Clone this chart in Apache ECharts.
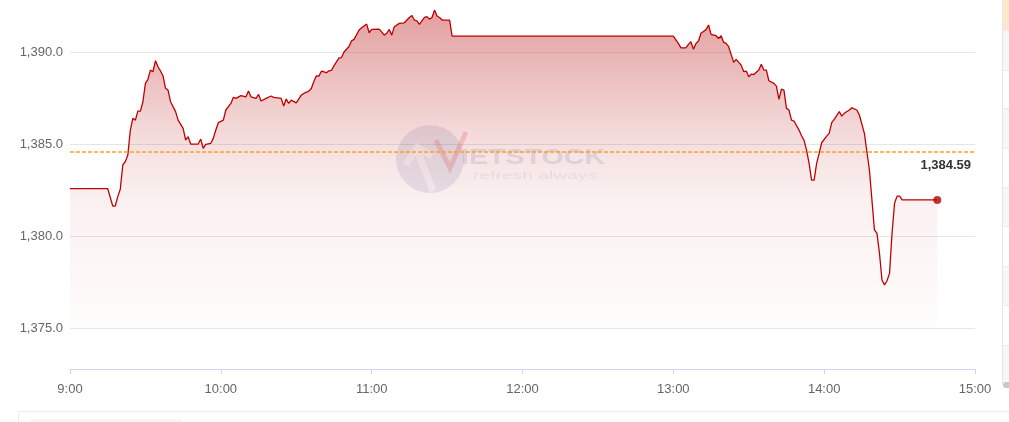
<!DOCTYPE html>
<html>
<head>
<meta charset="utf-8">
<script src="https://cdn.jsdelivr.net/npm/echarts@6/dist/echarts.min.js"></script>
<style>
html,body{margin:0;padding:0;background:#fff;overflow:hidden;width:1009px;height:422px}
#chart{position:absolute;left:0;top:0;width:1009px;height:422px}
#side{position:absolute;left:1002px;top:0;width:7px;height:385px;border-left:1px solid #e6e6e6;
  background:linear-gradient(#fde8cc 0,#fde8cc 30px,#ececec 30px,#ececec 31px,#f7f7f7 31px,#f7f7f7 70px,#ececec 70px,#ececec 71px,#fff 71px,#fff 108px,#ececec 108px,#ececec 109px,#f7f7f7 109px,#f7f7f7 148px,#ececec 148px,#ececec 149px,#fff 149px,#fff 187px,#ececec 187px,#ececec 188px,#f7f7f7 188px,#f7f7f7 226px,#ececec 226px,#ececec 227px,#fff 227px,#fff 266px,#ececec 266px,#ececec 267px,#f7f7f7 267px,#f7f7f7 305px,#ececec 305px,#ececec 306px,#fff 306px,#fff 345px,#ececec 345px,#ececec 346px,#f7f7f7 346px);}
#scroll{position:absolute;left:1003px;top:382px;width:6px;height:6px;border-radius:3px 0 0 3px;background:#c8c8c8}
#bottom{position:absolute;left:18px;top:411px;width:991px;height:12px;border-top:1px solid #ececec;border-left:1px solid #ececec}
#bottom2{position:absolute;left:31px;top:419px;width:151px;height:4px;background:#f6f6f6}
</style>
</head>
<body>
<div id="chart"></div>
<div id="side"></div>
<div id="scroll"></div>
<div id="bottom"></div>
<div id="bottom2"></div>
<script>
// ---- data ----
const times = [
 "9:00","9:15","9:17","9:18","9:19","9:20","9:21","9:22","9:23","9:24","9:25","9:26","9:27","9:28","9:29",
 "9:30","9:31","9:32","9:33","9:34","9:35","9:36","9:37","9:38","9:39","9:40","9:42","9:43","9:45","9:46",
 "9:47","9:48","9:49","9:51","9:52","9:53","9:54","9:56","9:57","9:58","9:59","10:01","10:02","10:04","10:05",
 "10:06","10:08","10:10","10:11","10:12","10:14","10:15","10:16","10:18","10:20","10:21","10:24","10:25","10:26","10:27",
 "10:28","10:30","10:32","10:33","10:35","10:36","10:37","10:38","10:39","10:40","10:41","10:42","10:43","10:44","10:45",
 "10:47","10:48","10:49","10:51","10:52","10:53","10:55","10:56","10:58","10:59","11:00","11:03","11:04","11:05","11:06",
 "11:07","11:08","11:09","11:11","11:13","11:15","11:16","11:17","11:18","11:19","11:21","11:22","11:23","11:24","11:25",
 "11:26","11:27","11:28","11:31","11:32","13:00","13:02","13:03","13:05","13:06","13:07","13:08","13:09","13:10","13:11",
 "13:12","13:13","13:14","13:15","13:17","13:18","13:19","13:20","13:21","13:22","13:24","13:25","13:27","13:28","13:29",
 "13:30","13:31","13:32","13:34","13:35","13:36","13:37","13:38","13:40","13:41","13:42","13:43","13:44","13:45","13:46",
 "13:47","13:48","13:50","13:51","13:52","13:53","13:54","13:55","13:56","13:57","13:58","13:59","14:01","14:02","14:03",
 "14:04","14:06","14:07","14:08","14:10","14:11","14:13","14:14","14:16","14:17","14:18","14:19","14:20","14:21","14:22",
 "14:23","14:24","14:25","14:26","14:27","14:28","14:29","14:30","14:31","14:45"
];
const prices = [
 1382.58,1382.58,1381.63,1381.63,1382.14,1382.54,1383.86,1384.04,1384.40,1385.76,1386.40,1386.30,1386.79,1386.79,1387.30,
 1388.30,1388.52,1389.02,1388.93,1389.53,1389.20,1388.97,1388.70,1388.03,1387.93,1387.30,1386.76,1386.30,1385.85,1385.22,
 1385.40,1385.00,1385.00,1385.00,1385.27,1384.77,1384.98,1385.04,1385.31,1385.76,1386.16,1386.30,1386.85,1387.21,1387.54,
 1387.48,1387.63,1387.57,1387.88,1387.57,1387.48,1387.70,1387.34,1387.48,1387.61,1387.54,1387.48,1387.07,1387.45,1387.21,
 1387.39,1387.24,1387.66,1387.75,1387.88,1388.02,1388.40,1388.71,1388.69,1388.96,1388.93,1388.87,1388.98,1389.01,1389.25,
 1389.68,1389.70,1390.00,1390.30,1390.61,1390.69,1391.20,1391.32,1391.52,1391.05,1391.23,1391.25,1391.10,1390.92,1391.02,
 1391.23,1390.92,1391.38,1391.56,1391.59,1391.88,1391.99,1391.74,1391.70,1391.51,1391.88,1391.92,1391.79,1391.88,1392.28,
 1391.96,1391.88,1391.74,1391.74,1390.87,1390.87,1390.47,1390.23,1390.23,1390.42,1390.56,1390.15,1390.47,1390.60,1391.02,
 1391.12,1391.22,1391.47,1390.96,1390.89,1390.74,1390.89,1390.53,1390.47,1390.29,1389.44,1389.60,1389.29,1388.93,1388.97,
 1388.66,1388.80,1388.78,1389.02,1389.33,1389.02,1389.02,1388.44,1388.30,1388.15,1387.43,1387.99,1387.93,1386.94,1386.85,
 1386.30,1386.25,1385.76,1385.45,1385.20,1384.67,1383.95,1383.04,1383.04,1383.95,1384.49,1385.07,1385.43,1385.58,1386.16,
 1386.34,1386.76,1386.52,1386.67,1386.85,1386.97,1386.85,1386.58,1385.58,1384.58,1383.59,1381.96,1380.33,1380.15,1379.06,
 1377.61,1377.34,1377.57,1377.97,1380.15,1381.78,1382.17,1382.17,1381.96,1381.96
];
const refValue = 1384.59;
const xTickLabels = ["9:00","10:00","11:00","12:00","13:00","14:00","15:00"];
const yMin = 1375, yMax = 1392.83, yStep = 5;

// ---- build ----
const toMin = s => { const p = s.split(":"); return (+p[0] - 9) * 60 + (+p[1]); };
const seriesData = times.map((t, i) => [toMin(t), prices[i]]);
const last = seriesData[seriesData.length - 1];
const FONT = 'Arial, "Liberation Sans", sans-serif';
const fmtNum = (v, d) => v.toLocaleString('en-US', {minimumFractionDigits: d, maximumFractionDigits: d});

const chart = echarts.init(document.getElementById('chart'), null, {renderer: 'canvas'});
chart.setOption({
  animation: false,
  grid: {left: 70, right: 34, top: 0, bottom: 94},
  xAxis: {
    type: 'value', min: 0, max: 360, interval: 60, offset: 41,
    axisLine: {onZero: false, lineStyle: {color: '#ccd6eb', width: 1}},
    axisTick: {length: 5, lineStyle: {color: '#ccd6eb'}},
    axisLabel: {margin: 14, color: '#666666', fontSize: 13, fontFamily: FONT,
      formatter: v => xTickLabels[Math.round(v / 60)]},
    splitLine: {show: false}
  },
  yAxis: {
    type: 'value', min: yMin, max: yMax, interval: yStep,
    axisLine: {show: false}, axisTick: {show: false},
    axisLabel: {margin: 7, color: '#666666', fontSize: 13, fontFamily: FONT, showMaxLabel: false,
      formatter: v => fmtNum(v, 1)},
    splitLine: {showMaxLine: false, lineStyle: {color: '#e6e6e6', width: 1}}
  },
  graphic: [
    {type: 'circle', z: 1, shape: {cx: 430, cy: 159, r: 34}, style: {fill: 'rgba(105,120,170,0.16)'}},
    {type: 'polyline', z: 1, shape: {points: [[406, 165], [417, 147], [432, 156]]}, style: {stroke: 'rgba(255,255,255,0.55)', lineWidth: 7, fill: null}},
    {type: 'polyline', z: 1, shape: {points: [[417, 150], [433, 191]]}, style: {stroke: 'rgba(255,255,255,0.55)', lineWidth: 7, fill: null}},
    {type: 'polyline', z: 1, shape: {points: [[436, 140], [450, 168], [466, 132]]}, style: {stroke: 'rgba(225,80,80,0.22)', lineWidth: 5, fill: null}},
    {type: 'text', z: 1, x: 461, y: 158, scaleX: 1.3, style: {text: 'IETSTOCK', font: 'bold 22px ' + FONT, fill: 'rgba(105,120,170,0.18)', verticalAlign: 'middle'}},
    {type: 'text', z: 1, x: 473, y: 176, scaleX: 1.75, style: {text: 'refresh always', font: '11px ' + FONT, fill: 'rgba(105,120,170,0.13)', verticalAlign: 'middle'}}
  ],
  series: [
    {
      type: 'line', data: seriesData, showSymbol: false, symbol: 'none', z: 3,
      lineStyle: {color: '#bf0000', width: 1.3},
      areaStyle: {color: new echarts.graphic.LinearGradient(0, 0, 0, 1, [
        {offset: 0, color: 'rgba(180,0,0,0.54)'},
        {offset: 0.3, color: 'rgba(180,0,0,0.28)'},
        {offset: 0.45, color: 'rgba(180,0,0,0.16)'},
        {offset: 0.6, color: 'rgba(180,0,0,0.08)'},
        {offset: 0.9, color: 'rgba(180,0,0,0.03)'},
        {offset: 1, color: 'rgba(180,0,0,0.015)'}
      ])},
      emphasis: {disabled: true},
      markLine: {
        silent: true, symbol: ['none', 'none'], animation: false,
        data: [{yAxis: refValue}],
        lineStyle: {color: '#f7a128', type: [4, 2], width: 1.5},
        label: {position: 'insideEndBottom', distance: [4, 7], formatter: () => fmtNum(refValue, 2),
          color: '#333333', fontWeight: 'bold', fontSize: 13, fontFamily: FONT}
      }
    },
    {
      type: 'scatter', data: [last], symbol: 'circle', symbolSize: 8, z: 4,
      itemStyle: {color: '#b80000'}, emphasis: {disabled: true}, silent: true
    }
  ]
});
</script>
</body>
</html>
